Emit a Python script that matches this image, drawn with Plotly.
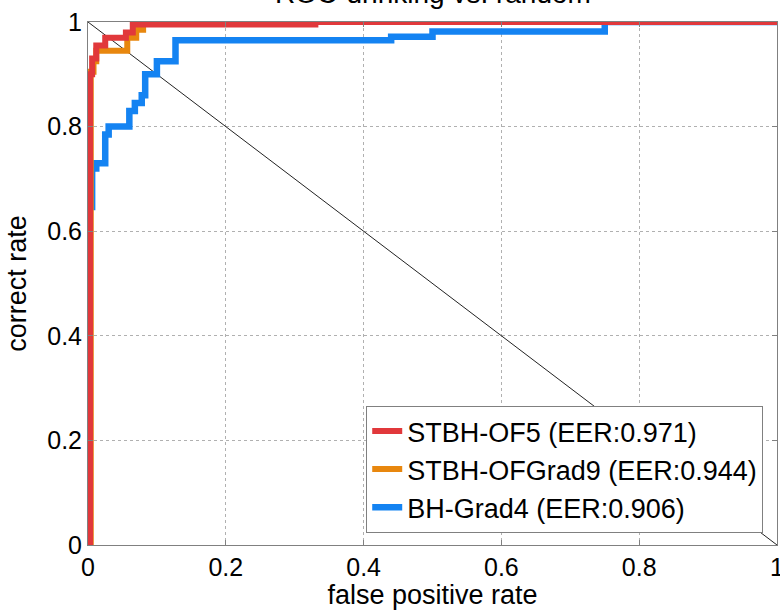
import plotly.graph_objects as go

# ---- data ----
red_name = "STBH-OF5 (EER:0.971)"
red_x = [0.003, 0.003, 0.006, 0.012, 0.025, 0.055, 0.065, 0.33, 1.0]
red_y = [0.0, 0.90, 0.93, 0.955, 0.97, 0.98, 0.995, 1.0, 1.0]

orange_name = "STBH-OFGrad9 (EER:0.944)"
orange_x = [0.004, 0.004, 0.008, 0.012, 0.057, 0.07, 0.08, 1.0]
orange_y = [0.0, 0.905, 0.925, 0.945, 0.97, 0.985, 1.0, 1.0]

blue_name = "BH-Grad4 (EER:0.906)"
blue_x = [0.006, 0.006, 0.012, 0.025, 0.03, 0.06, 0.068, 0.078, 0.083, 0.10, 0.127, 0.44, 0.50, 0.75, 1.0]
blue_y = [0.64, 0.72, 0.73, 0.785, 0.80, 0.83, 0.845, 0.86, 0.90, 0.925, 0.965, 0.972, 0.982, 1.0, 1.0]

diag_x = [0.0, 1.0]
diag_y = [1.0, 0.0]

tick_vals = [0, 0.2, 0.4, 0.6, 0.8, 1]
tick_text = ["0", "0.2", "0.4", "0.6", "0.8", "1"]

title_text = "ROC-drinking vs. random"
x_title = "false positive rate"
y_title = "correct rate"

FONT = "Liberation Sans, Arial, sans-serif"
RED = "#E1383B"
ORANGE = "#E8870E"
BLUE = "#1483F2"

fig = go.Figure()
fig.add_trace(go.Scatter(x=diag_x, y=diag_y, mode="lines", showlegend=False,
                         line=dict(color="#222222", width=1), hoverinfo="skip"))
fig.add_trace(go.Scatter(x=blue_x, y=blue_y, mode="lines", name=blue_name, legendrank=3,
                         line=dict(color=BLUE, width=6.5, shape="hv")))
fig.add_trace(go.Scatter(x=orange_x, y=orange_y, mode="lines", name=orange_name, legendrank=2,
                         line=dict(color=ORANGE, width=6, shape="hv")))
fig.add_trace(go.Scatter(x=red_x, y=red_y, mode="lines", name=red_name, legendrank=1,
                         line=dict(color=RED, width=6, shape="hv")))

axis_common = dict(
    range=[0, 1], tickvals=tick_vals, ticktext=tick_text,
    showline=True, linecolor="#808080", linewidth=1, mirror="ticks",
    ticks="inside", ticklen=5, tickcolor="#808080",
    showgrid=True, gridcolor="#b0b0b0", griddash="dot", gridwidth=1,
    zeroline=False, tickfont=dict(family=FONT, size=25, color="black"),
    ticklabeloverflow="allow",
)

fig.update_layout(
    width=780, height=610,
    margin=dict(l=88, r=3, t=22, b=65, autoexpand=False),
    paper_bgcolor="white", plot_bgcolor="white",
    font=dict(family=FONT, color="black"),
    xaxis=dict(**axis_common, title=dict(text=x_title, font=dict(family=FONT, size=27), standoff=5)),
    yaxis=dict(**axis_common, title=dict(text=y_title, font=dict(family=FONT, size=27), standoff=12)),
    legend=dict(x=0.98, y=0.023, xanchor="right", yanchor="bottom",
                bgcolor="white", bordercolor="#808080", borderwidth=1,
                font=dict(family=FONT, size=27, color="black"),
                tracegroupgap=0, itemwidth=30),
    showlegend=True,
    annotations=[dict(text=title_text, xref="paper", yref="paper", x=0.5, y=1.054,
                      xanchor="center", yanchor="middle", showarrow=False,
                      font=dict(family=FONT, size=28, color="black"))],
)

fig.write_html("out.html")
